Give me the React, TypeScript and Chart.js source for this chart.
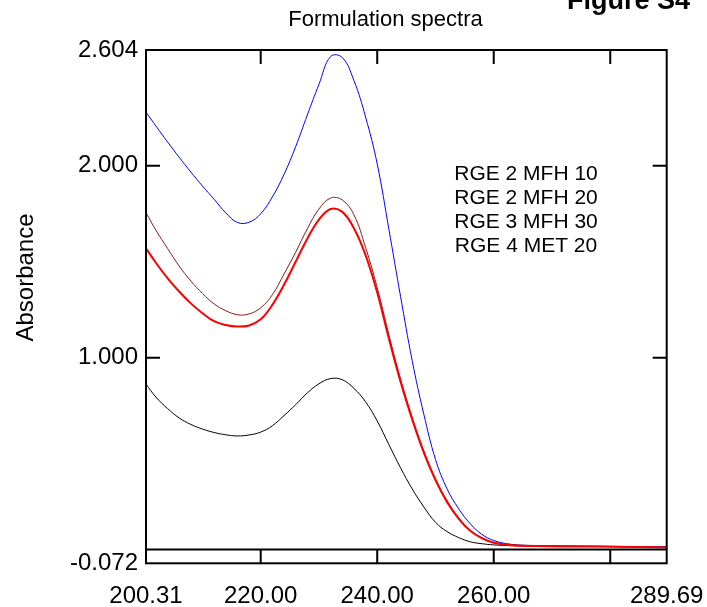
import React, { useEffect, useRef } from 'react';
import { Chart, registerables } from 'chart.js';

Chart.register(...registerables);

// ---- data ----
const wavelengths = [
  200.31, 202, 204, 206, 208, 210, 212, 214, 216, 218, 220, 222, 224, 226, 228, 230, 232,
  234, 236, 238, 240, 242, 244, 246, 248, 250, 252, 254, 256, 258, 260, 263, 267, 272, 278,
  284, 289.69,
];
const seriesLabels = ['RGE 2 MFH 10', 'RGE 2 MFH 20', 'RGE 3 MFH 30', 'RGE 4 MET 20'];
const blueValues = [
  2.28, 2.208, 2.125, 2.045, 1.968, 1.895, 1.826, 1.755, 1.705, 1.706, 1.75, 1.838, 1.955,
  2.1, 2.265, 2.425, 2.57, 2.565, 2.445, 2.255, 2.01, 1.67, 1.32, 0.985, 0.705, 0.47, 0.315,
  0.212, 0.133, 0.078, 0.047, 0.027, 0.02, 0.018, 0.016, 0.014, 0.013,
];
const brownValues = [
  1.756, 1.665, 1.57, 1.478, 1.4, 1.335, 1.28, 1.245, 1.224, 1.228, 1.26, 1.328, 1.436, 1.55,
  1.672, 1.775, 1.832, 1.822, 1.745, 1.575, 1.365, 1.12, 0.89, 0.69, 0.515, 0.37, 0.253,
  0.165, 0.1, 0.061, 0.038, 0.025, 0.021, 0.019, 0.017, 0.015, 0.012,
];
const redValues = [
  1.57, 1.495, 1.415, 1.345, 1.283, 1.232, 1.19, 1.17, 1.162, 1.168, 1.2, 1.275, 1.38, 1.5,
  1.62, 1.72, 1.775, 1.76, 1.675, 1.535, 1.34, 1.1, 0.875, 0.678, 0.505, 0.362, 0.247, 0.16,
  0.096, 0.058, 0.035, 0.022, 0.018, 0.016, 0.015, 0.013, 0.011,
];
const blackValues = [
  0.862, 0.795, 0.735, 0.686, 0.652, 0.628, 0.61, 0.598, 0.592, 0.597, 0.612, 0.645, 0.698,
  0.755, 0.816, 0.864, 0.891, 0.885, 0.84, 0.77, 0.67, 0.547, 0.426, 0.316, 0.222, 0.142,
  0.093, 0.062, 0.04, 0.03, 0.024, 0.02, 0.018, 0.016, 0.015, 0.014, 0.013,
];

const xMin = 200.31;
const xMax = 289.69;
const yMin = -0.072;
const yMax = 2.604;
const xTickValues = [200.31, 220, 240, 260, 280, 289.69];
const xHiddenLabels = [280];
const yTickValues = [-0.072, 1, 2, 2.604];
const xInnerTicks = [220, 240, 260, 280];
const yInnerTicks = [1, 2];

const chartTitle = 'Formulation spectra';
const figureLabel = 'Figure S4';
const yAxisTitle = 'Absorbance';

const FONT = '"Liberation Sans", Arial, Helvetica, sans-serif';

const toPoints = (vals: number[]) => vals.map((v, i) => ({ x: wavelengths[i], y: v }));

const decorPlugin = {
  id: 'decor',
  afterDatasetsDraw(chart: any) {
    const { ctx, chartArea: a, scales } = chart;
    const xs = scales.x;
    const ys = scales.y;
    ctx.save();
    ctx.strokeStyle = '#000';
    ctx.lineWidth = 2;
    const y0 = ys.getPixelForValue(0);
    ctx.beginPath();
    ctx.moveTo(a.left, y0);
    ctx.lineTo(a.right, y0);
    ctx.stroke();
    ctx.strokeRect(a.left, a.top, a.right - a.left, a.bottom - a.top);
    const len = 14;
    ctx.beginPath();
    for (const v of xInnerTicks) {
      const px = xs.getPixelForValue(v);
      ctx.moveTo(px, a.top);
      ctx.lineTo(px, a.top + len);
      ctx.moveTo(px, a.bottom);
      ctx.lineTo(px, a.bottom - len);
    }
    for (const v of yInnerTicks) {
      const py = ys.getPixelForValue(v);
      ctx.moveTo(a.left, py);
      ctx.lineTo(a.left + len, py);
      ctx.moveTo(a.right, py);
      ctx.lineTo(a.right - len, py);
    }
    ctx.stroke();
    ctx.restore();
  },
  afterDraw(chart: any) {
    const { ctx } = chart;
    ctx.save();
    ctx.fillStyle = '#000';
    ctx.font = `22px ${FONT}`;
    ctx.textAlign = 'center';
    ctx.textBaseline = 'alphabetic';
    ctx.fillText(chartTitle, 385.5, 26);
    ctx.font = `bold 27px ${FONT}`;
    ctx.textAlign = 'left';
    ctx.fillText(figureLabel, 567, 9);
    ctx.font = `21px ${FONT}`;
    ctx.textAlign = 'center';
    chart.data.datasets.forEach((ds: any, i: number) => {
      ctx.fillText(ds.label, 526, 180 + 24 * i);
    });
    ctx.font = `24px ${FONT}`;
    ctx.translate(33, 277.5);
    ctx.rotate(-Math.PI / 2);
    ctx.textAlign = 'center';
    ctx.fillText(yAxisTitle, 0, 0);
    ctx.restore();
  },
};

export default function App() {
  const canvasRef = useRef<HTMLCanvasElement | null>(null);

  useEffect(() => {
    if (!canvasRef.current) return;
    const chart = new Chart(canvasRef.current, {
      type: 'line',
      data: {
        datasets: [
          { label: seriesLabels[0], data: toPoints(blueValues), borderColor: '#0000ff', borderWidth: 1, order: 2 },
          { label: seriesLabels[1], data: toPoints(brownValues), borderColor: '#8b1a1a', borderWidth: 1, order: 1 },
          { label: seriesLabels[2], data: toPoints(redValues), borderColor: '#ff0000', borderWidth: 2, order: 0 },
          { label: seriesLabels[3], data: toPoints(blackValues), borderColor: '#000000', borderWidth: 1, order: 3 },
        ] as any,
      },
      options: {
        responsive: false,
        animation: false,
        parsing: false as any,
        normalized: true,
        layout: { padding: { top: 50, right: 40.3, left: 0, bottom: 0 } },
        elements: {
          point: { radius: 0 },
          line: { tension: 0.4, fill: false, borderCapStyle: 'round', borderJoinStyle: 'round' },
        },
        plugins: {
          legend: { display: false },
          title: { display: false },
          tooltip: { enabled: false },
        },
        scales: {
          x: {
            type: 'linear',
            min: xMin,
            max: xMax,
            grid: { display: false, drawTicks: false, tickLength: 0 },
            border: { display: false },
            afterBuildTicks: (scale: any) => {
              scale.ticks = xTickValues.map((v) => ({ value: v }));
            },
            afterFit: (scale: any) => {
              scale.height = 43.7;
              scale.paddingLeft = 0;
              scale.paddingRight = 0;
              scale.paddingTop = 0;
              scale.paddingBottom = 0;
            },
            ticks: {
              autoSkip: false,
              maxRotation: 0,
              minRotation: 0,
              padding: 19,
              color: '#000',
              font: { family: FONT, size: 24 },
              callback: (v: any) => (xHiddenLabels.includes(Number(v)) ? '' : Number(v).toFixed(2)),
            },
          },
          y: {
            type: 'linear',
            min: yMin,
            max: yMax,
            grid: { display: false, drawTicks: false, tickLength: 0 },
            border: { display: false },
            afterBuildTicks: (scale: any) => {
              scale.ticks = yTickValues.map((v) => ({ value: v }));
            },
            afterFit: (scale: any) => {
              scale.width = 146;
              scale.paddingLeft = 0;
              scale.paddingRight = 0;
              scale.paddingTop = 0;
              scale.paddingBottom = 0;
            },
            ticks: {
              autoSkip: false,
              padding: 8,
              color: '#000',
              font: { family: FONT, size: 24 },
              callback: (v: any) => Number(v).toFixed(3),
            },
          },
        },
      } as any,
      plugins: [decorPlugin],
    });
    return () => chart.destroy();
  }, []);

  return (
    <div style={{ position: 'absolute', left: 0, top: 0, width: 707, height: 607, background: '#fff' }}>
      <canvas ref={canvasRef} width={707} height={607} style={{ display: 'block' }} />
    </div>
  );
}
